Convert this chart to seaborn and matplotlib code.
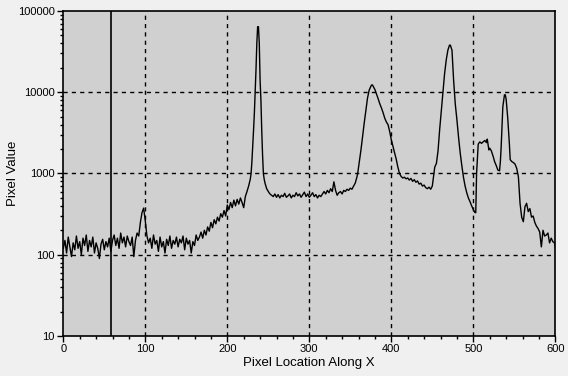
import matplotlib
matplotlib.use("Agg")
import matplotlib.pyplot as plt
import matplotlib.ticker as mticker
import seaborn as sns
import pandas as pd

# ---- data ----
x_pos = [
    0, 2, 4, 6, 8, 10, 12, 14, 16, 18, 20, 22, 24, 26, 28, 30, 32, 34, 36, 38,
    40, 42, 44, 46, 48, 50, 52, 54, 56, 58, 60, 62, 64, 66, 68, 70, 72, 74, 76, 78,
    80, 82, 84, 86, 88, 90, 92, 94, 96, 98, 100, 102, 104, 106, 108, 110, 112, 114, 116, 118,
    120, 122, 124, 126, 128, 130, 132, 134, 136, 138, 140, 142, 144, 146, 148, 150, 152, 154, 156, 158,
    160, 162, 164, 166, 168, 170, 172, 174, 176, 178, 180, 182, 184, 186, 188, 190, 192, 194, 196, 198,
    200, 202, 204, 206, 208, 210, 212, 214, 216, 218, 220, 222, 224, 226, 228, 229, 230, 231, 232, 233,
    234, 235, 236, 237, 238, 239, 240, 241, 242, 243, 244, 245, 246, 248, 250, 252, 254, 256, 258, 260,
    262, 264, 266, 268, 270, 272, 274, 276, 278, 280, 282, 284, 286, 288, 290, 292, 294, 296, 298, 300,
    302, 304, 306, 308, 310, 312, 314, 316, 318, 320, 322, 324, 326, 328, 330, 332, 334, 336, 338, 340,
    342, 344, 346, 348, 350, 352, 354, 356, 358, 359, 361, 363, 365, 367, 369, 371, 373, 375, 376, 377,
    378, 380, 382, 384, 386, 388, 390, 392, 394, 396, 398, 400, 402, 404, 406, 408, 410, 412, 414, 416,
    418, 420, 422, 424, 426, 428, 430, 432, 434, 436, 438, 440, 442, 444, 446, 448, 450, 452, 453, 455,
    457, 459, 461, 463, 465, 467, 469, 471, 472, 474, 476, 477, 478, 480, 482, 484, 486, 488, 490, 492,
    494, 496, 498, 500, 502, 503, 504, 506, 508, 510, 512, 514, 516, 517, 519, 520, 522, 524, 526, 528,
    530, 532, 533, 534, 535, 536, 538, 539, 540, 542, 544, 545, 547, 549, 551, 553, 555, 557, 559, 561,
    563, 565, 567, 569, 571, 573, 575, 577, 579, 581, 583, 585, 587, 589, 591, 593, 595, 597, 599, 600,
]
pixel_value = [
    120, 150, 105, 165, 125, 95, 140, 115, 170, 120, 145, 100, 160, 130, 175, 110, 150, 125, 165, 105,
    140, 120, 90, 135, 155, 115, 145, 125, 160, 110, 150, 175, 130, 160, 120, 185, 140, 165, 125, 170,
    145, 130, 165, 95, 150, 185, 170, 250, 330, 375, 260, 170, 140, 160, 120, 175, 135, 150, 110, 165,
    125, 145, 105, 155, 130, 170, 120, 150, 135, 165, 125, 155, 140, 170, 115, 160, 135, 150, 105, 145,
    130, 175, 150, 165, 190, 160, 200, 175, 220, 195, 250, 215, 270, 240, 290, 260, 320, 290, 350, 300,
    410, 360, 440, 380, 470, 400, 480, 420, 500, 440, 380, 520, 600, 700, 850, 1000, 1400, 2150, 3400, 5500,
    10000, 19000, 40000, 64000, 64000, 40000, 14000, 8000, 3400, 1700, 1000, 850, 760, 650, 600, 560, 540, 520, 560, 510,
    550, 500, 540, 520, 570, 510, 530, 560, 500, 540, 520, 580, 530, 560, 510, 550, 590, 520, 560, 510,
    540, 580, 520, 550, 500, 540, 520, 560, 600, 560, 620, 580, 650, 600, 790, 620, 540, 580, 600, 560,
    620, 600, 640, 620, 660, 640, 700, 760, 900, 1000, 1400, 1950, 2900, 4200, 6000, 8500, 10600, 11800, 12300, 12300,
    11800, 10800, 9500, 8300, 7200, 6400, 5600, 4800, 4300, 4000, 3300, 2600, 2150, 1800, 1500, 1200, 1000, 920, 880, 900,
    860, 880, 830, 870, 800, 840, 780, 810, 740, 760, 700, 720, 670, 650, 680, 640, 700, 1000, 1200, 1330,
    1900, 3500, 6000, 10000, 17000, 25000, 33000, 38000, 38000, 33000, 14000, 10000, 7200, 4600, 2800, 1800, 1250, 900, 700, 580,
    500, 450, 400, 360, 330, 330, 1000, 2300, 2450, 2350, 2450, 2550, 2400, 2650, 1950, 2050, 1900, 1650, 1400, 1250,
    1100, 1080, 1400, 2150, 3800, 6600, 9300, 9300, 8300, 4800, 2300, 1480, 1400, 1360, 1300, 1150, 910, 430, 290, 255,
    390, 430, 340, 370, 290, 300, 250, 225, 210, 190, 125, 200, 170, 175, 185, 140, 160, 145, 140, 125,
]
marker_x = [58]
x_ticks = [0, 100, 200, 300, 400, 500, 600]
y_ticks = [10, 100, 1000, 10000, 100000]
y_tick_labels = ["10", "100", "1000", "10000", "100000"]
x_label = "Pixel Location Along X"
y_label = "Pixel Value"

df = pd.DataFrame({"x": x_pos, "y": pixel_value})

plt.rcParams["font.family"] = ["Liberation Sans", "DejaVu Sans"]

fig = plt.figure(figsize=(5.68, 3.76), dpi=100, facecolor="#f0f0f0")
ax = fig.add_axes([63.3 / 568, 1 - 336 / 376, (555.3 - 63.3) / 568, (336 - 11) / 376])
ax.set_facecolor("#d0d0d0")

ax.set_yscale("log")
ax.set_xlim(0, 600)
ax.set_ylim(10, 100000)

# grid lines (dashed) at interior major ticks
for xv in x_ticks[1:-1]:
    ax.axvline(xv, color="black", lw=1.0, ls=(0, (3, 3)), zorder=1)
for yv in y_ticks[1:-1]:
    ax.axhline(yv, color="black", lw=1.0, ls=(0, (3, 3)), zorder=1)

for mx in marker_x:
    ax.axvline(mx, color="black", lw=1.2, zorder=2)

sns.lineplot(data=df, x="x", y="y", ax=ax, color="black", lw=1.0,
             estimator=None, sort=False, zorder=3)

ax.set_xticks(x_ticks)
ax.set_xticklabels([str(v) for v in x_ticks])
ax.xaxis.set_minor_locator(mticker.MultipleLocator(20))
ax.yaxis.set_major_locator(mticker.FixedLocator(y_ticks))
ax.yaxis.set_major_formatter(mticker.FixedFormatter(y_tick_labels))
ax.yaxis.set_minor_locator(mticker.LogLocator(base=10, subs=range(2, 10)))
ax.yaxis.set_minor_formatter(mticker.NullFormatter())

ax.tick_params(axis="both", which="major", direction="out", length=4, width=1,
               labelsize=8, colors="black", pad=2)
ax.tick_params(axis="both", which="minor", direction="out", length=2.5, width=1)

for s in ax.spines.values():
    s.set_color("black")
    s.set_linewidth(1.2)

ax.set_xlabel(x_label, fontsize=9.5, labelpad=2)
ax.set_ylabel("")
fig.text(13 / 568, 1 - 173 / 376, y_label, rotation=90, ha="center", va="center",
         fontsize=9.5)

fig.savefig("out.png", dpi=100, facecolor=fig.get_facecolor())
